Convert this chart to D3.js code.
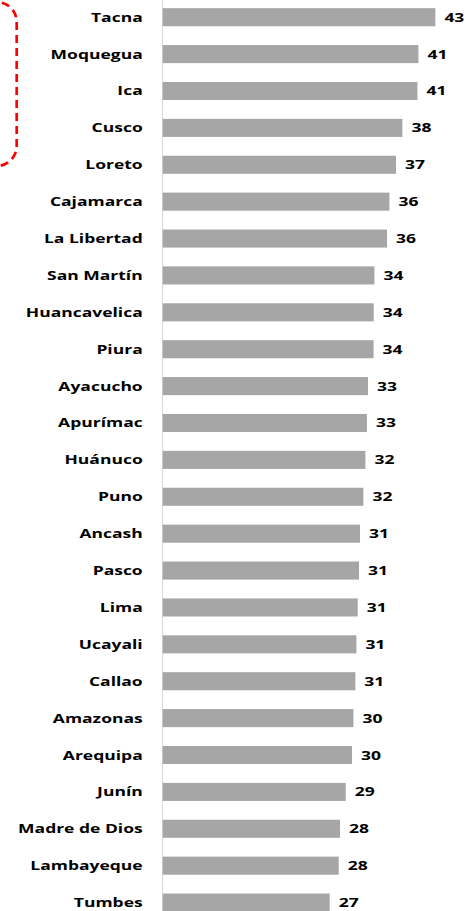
<!DOCTYPE html>
<html><head><meta charset="utf-8">
<script src="https://cdn.jsdelivr.net/npm/d3@7"></script>
<style>html,body{margin:0;padding:0;background:#fff;overflow:hidden}</style>
</head><body>
<svg id="c" width="466" height="911"></svg>
<script>
const categories = ["Tacna","Moquegua","Ica","Cusco","Loreto","Cajamarca","La Libertad","San Martín","Huancavelica","Piura","Ayacucho","Apurímac","Huánuco","Puno","Ancash","Pasco","Lima","Ucayali","Callao","Amazonas","Arequipa","Junín","Madre de Dios","Lambayeque","Tumbes"];
const values = [43.42,40.72,40.56,38.17,37.15,36.10,35.72,33.71,33.60,33.58,32.69,32.52,32.28,31.96,31.42,31.26,31.05,30.84,30.68,30.37,30.14,29.14,28.23,28.03,26.59];

const svg = d3.select("#c");
const X0 = 162.7, PX = 6.28;
const x = d3.scaleLinear().domain([0, 50]).range([X0, X0 + 50 * PX]);
const step = 36.89;
const y = d3.scaleBand().domain(categories)
  .range([17.2 - step / 2, 17.2 - step / 2 + step * categories.length])
  .paddingInner(0.51).paddingOuter(0.255);

const FONT = "'Open Sans', 'DejaVu Sans', sans-serif";
const SX = 1.40;

// dashed red bracket
svg.append("rect").attr("x", -200).attr("y", 2).attr("width", 216.7).attr("height", 164)
  .attr("rx", 20).attr("ry", 20).attr("fill", "none").attr("stroke", "#ff0000")
  .attr("stroke-width", 2.7).attr("stroke-dasharray", "8,5");

// axis line
svg.append("line").attr("x1", X0 - 0.2).attr("x2", X0 - 0.2).attr("y1", 0).attr("y2", 911)
  .attr("stroke", "#d9d9d9").attr("stroke-width", 1);

const data = categories.map((c, i) => ({c, v: values[i]}));

svg.selectAll("rect.bar").data(data).join("rect").attr("class", "bar")
  .attr("x", x(0)).attr("y", d => y(d.c)).attr("width", d => x(d.v) - x(0))
  .attr("height", y.bandwidth()).attr("fill", "#a6a6a6");

// category labels
svg.selectAll("g.cl").data(data).join("g").attr("class", "cl")
  .attr("transform", d => `translate(142.7,${y(d.c) + y.bandwidth() / 2}) scale(${SX},1)`)
  .append("text").attr("text-anchor", "end").attr("dy", "0.36em")
  .attr("font-family", FONT).attr("font-weight", 700).attr("font-size", 12.5)
  .attr("fill", "#000").text(d => d.c);

// value labels
svg.selectAll("g.vl").data(data).join("g").attr("class", "vl")
  .attr("transform", d => `translate(${x(d.v) + 9},${y(d.c) + y.bandwidth() / 2}) scale(${SX},1)`)
  .append("text").attr("text-anchor", "start").attr("dy", "0.36em")
  .attr("font-family", FONT).attr("font-weight", 700).attr("font-size", 12.5)
  .attr("fill", "#000").text(d => d3.format(".0f")(d.v));
</script>
</body></html>
